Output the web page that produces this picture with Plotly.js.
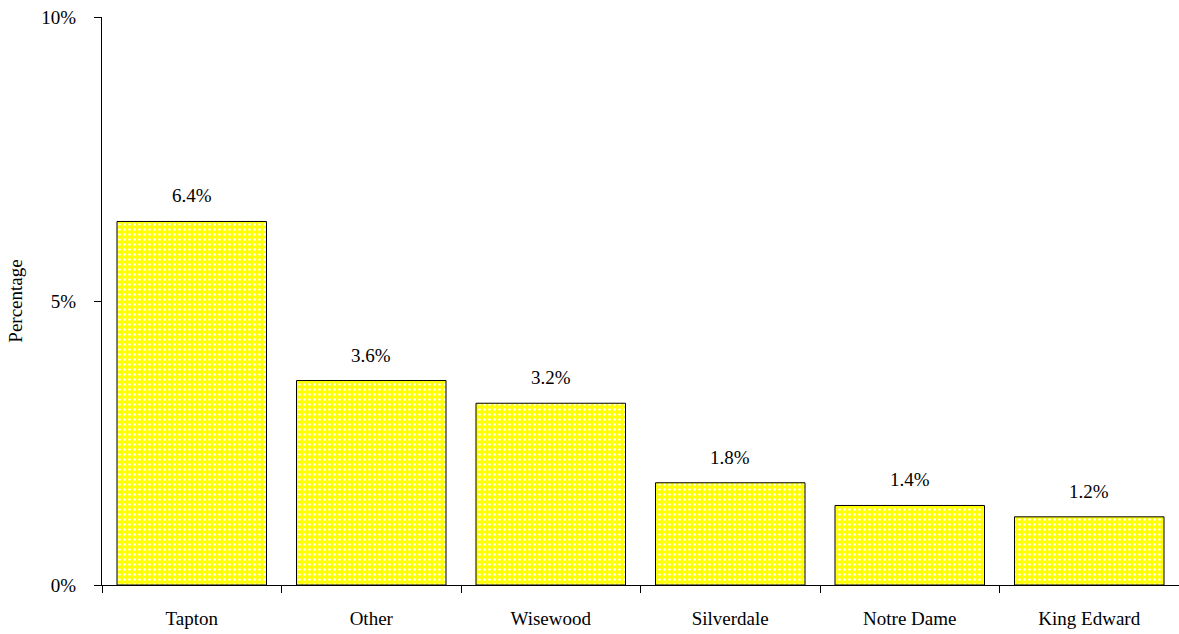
<!DOCTYPE html>
<html><head><meta charset="utf-8">
<script src="https://cdn.plot.ly/plotly-3.0.1.min.js"></script>
<style>body{margin:0;padding:0;background:#fff}#chart{width:1179px;height:634px}</style>
</head><body><div id="chart"></div>
<script>
const categories = ["Tapton", "Other", "Wisewood", "Silverdale", "Notre Dame", "King Edward"];
const values = [6.4, 3.6, 3.2, 1.8, 1.4, 1.2];
const labels = ["6.4%", "3.6%", "3.2%", "1.8%", "1.4%", "1.2%"];
const yTickVals = [0, 5, 10];
const yTickText = ["0%", "5%", "10%"];

const font = {family: "Liberation Serif", size: 19, color: "#000"};

const trace = {
  type: "bar", x: categories, y: values,
  marker: {
    color: "#ffff00",
    line: {color: "#000", width: 1},
    pattern: {shape: ".", fgcolor: "#ffffff", bgcolor: "#ffff00", size: 5, solidity: 0.2}
  },
  hoverinfo: "none"
};

const annotations = categories.map((c, i) => ({
  x: c, y: values[i], text: labels[i], showarrow: false,
  yanchor: "bottom", yshift: 13, font: font
}));

const layout = {
  width: 1179, height: 634,
  margin: {l: 102, r: 0, t: 17, b: 49},
  paper_bgcolor: "#fff", plot_bgcolor: "#fff",
  showlegend: false, bargap: 0.167,
  font: font,
  xaxis: {
    showline: true, linecolor: "#000", linewidth: 1,
    ticks: "outside", tickson: "boundaries", ticklen: 7, tickcolor: "#000",
    showgrid: false, zeroline: false, ticklabelstandoff: 16,
    tickfont: font
  },
  yaxis: {
    range: [0, 10], showline: true, linecolor: "#000", linewidth: 1,
    ticks: "outside", ticklen: 7, tickcolor: "#000",
    tickvals: yTickVals, ticktext: yTickText,
    showgrid: false, zeroline: false, ticklabelstandoff: 14,
    tickfont: font,
    title: {text: "Percentage", font: font, standoff: 13}
  },
  annotations: annotations
};

Plotly.newPlot("chart", [trace], layout, {displayModeBar: false, staticPlot: true});
</script></body></html>
